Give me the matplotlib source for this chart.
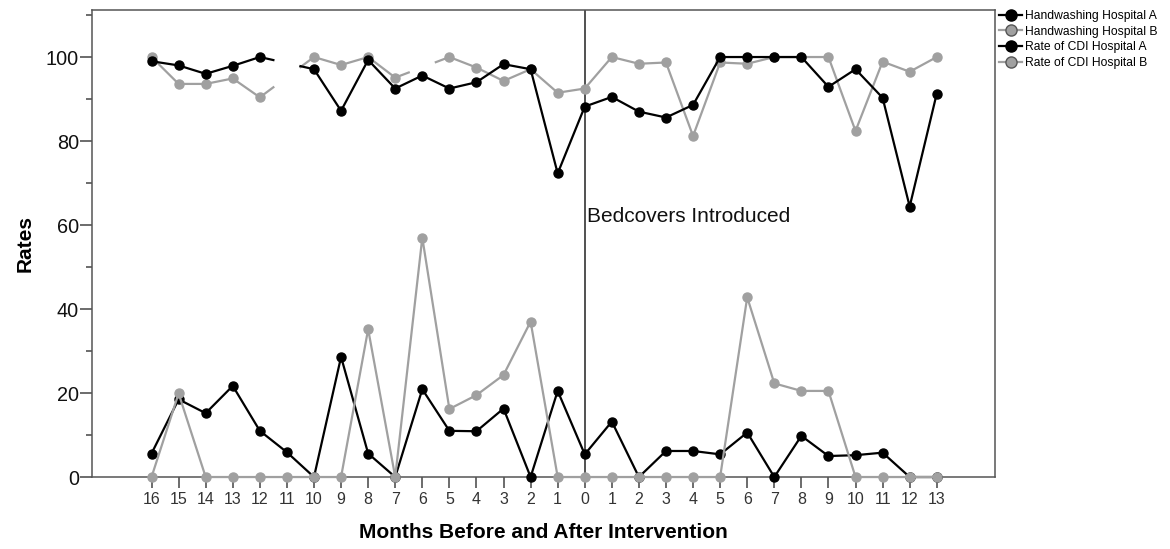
import numpy as np
import matplotlib.pyplot as plt

plt.rcParams['font.family'] = ['Liberation Sans', 'DejaVu Sans']

nan = np.nan

# months: 16..1 before, 0, 1..13 after
month_labels = [str(m) for m in range(16, 0, -1)] + [str(m) for m in range(0, 14)]

handwash_a = [99, 98, 96, 97.9, 100, nan, 97.1, 87.2, 99.3, 92.5, 95.6, 92.5, 94, 98.3, 97.1, 72.3,
              88.2, 90.5, 87, 85.6, 88.6, 100, 100, 100, 100, 92.9, 97.1, 90.3, 64.4, 91.3]
handwash_b = [100, 93.6, 93.6, 94.9, 90.4, nan, 100, 98.1, 100, 95.1, nan, 100, 97.5, 94.3, 97.1, 91.5,
              92.5, 100, 98.4, 98.7, 81.2, 98.7, 98.4, 100, 100, 100, 82.4, 98.9, 96.5, 100]
cdi_a = [5.6, 18.5, 15.2, 21.7, 11, 5.9, 0, 28.6, 5.6, 0, 20.9, 11, 10.9, 16.3, 0, 20.5,
         5.4, 13.2, 0, 6.2, 6.2, 5.4, 10.6, 0, 9.8, 5, 5.2, 5.8, 0, 0]
cdi_b = [0, 19.9, 0, 0, 0, 0, 0, 0, 35.2, 0, 57, 16.2, 19.5, 24.3, 37, 0,
         0, 0, 0, 0, 0, 0, 42.8, 22.3, 20.5, 20.5, 0, 0, 0, 0]

GREY = '#a0a0a0'
BLACK = '#000000'


def gap_stubs(ax, x, y, color, z):
    # short half-segments towards a missing month, as the original software draws them
    for i in range(1, len(y) - 1):
        if np.isnan(y[i]) and not np.isnan(y[i - 1]) and not np.isnan(y[i + 1]):
            mid = (y[i - 1] + y[i + 1]) / 2
            ax.plot([x[i - 1], x[i - 1] + 0.5], [y[i - 1], (y[i - 1] + mid) / 2],
                    color=color, lw=1.6, zorder=z)
            ax.plot([x[i + 1] - 0.5, x[i + 1]], [(y[i + 1] + mid) / 2, y[i + 1]],
                    color=color, lw=1.6, zorder=z)


fig = plt.figure(figsize=(11.7, 5.49), dpi=100)
ax = fig.add_axes([0.0786, 0.1311, 0.7718, 0.8507])

x = np.arange(len(month_labels))
series = [
    ("Handwashing Hospital A", handwash_a, BLACK, 4),
    ("Handwashing Hospital B", handwash_b, GREY, 3),
    ("Rate of CDI Hospital A", cdi_a, BLACK, 5),
    ("Rate of CDI Hospital B", cdi_b, GREY, 6),
]
for name, vals, col, z in series:
    y = np.array(vals, dtype=float)
    ax.plot(x, y, color=col, lw=1.6, marker='o', markersize=6.5,
            markerfacecolor=col, markeredgecolor=col, zorder=z, clip_on=False)
    gap_stubs(ax, x, y, col, z)

ax.axvline(month_labels.index('0'), color='#222222', lw=1.1, zorder=2)
ax.text(month_labels.index('0') + 0.1, 62, "Bedcovers Introduced", fontsize=15,
        va='center', ha='left', color='#111111')

ax.set_xlim(-2.2, 31.15)
ax.set_ylim(0, 111.2)
ax.set_xticks(x)
ax.set_xticklabels(month_labels, fontsize=11.5, color='#333333')
ax.set_yticks([0, 20, 40, 60, 80, 100])
ax.set_yticks([10, 30, 50, 70, 90, 110], minor=True)
ax.tick_params(axis='y', which='major', length=9, width=1.1, labelsize=14.3, pad=0.5,
               colors='#444444', labelcolor='#111111')
ax.tick_params(axis='y', which='minor', length=4, width=1.1, colors='#444444')
ax.tick_params(axis='x', length=8, width=1.1, pad=3, colors='#444444', labelcolor='#333333')
for sp in ax.spines.values():
    sp.set_color('#555555')
    sp.set_linewidth(1.1)

ax.set_ylabel("Rates", fontsize=15, fontweight='bold', labelpad=8)
ax.set_xlabel("Months Before and After Intervention", fontsize=15, fontweight='bold', labelpad=11)

leg_handles = []
for name, vals, col, z in series:
    edge = '#555555' if col == GREY else col
    lh, = ax.plot([], [], color=col, lw=1.6, marker='o', markersize=8,
                  markerfacecolor=col, markeredgecolor=edge, label=name)
    leg_handles.append(lh)
fig.legend(handles=leg_handles, loc='upper left', bbox_to_anchor=(0.852, 0.986),
           frameon=False, fontsize=8.7, handlelength=1.9, handletextpad=0.2,
           labelspacing=0.3, borderaxespad=0, borderpad=0.2)

fig.savefig("out.png", dpi=100)
